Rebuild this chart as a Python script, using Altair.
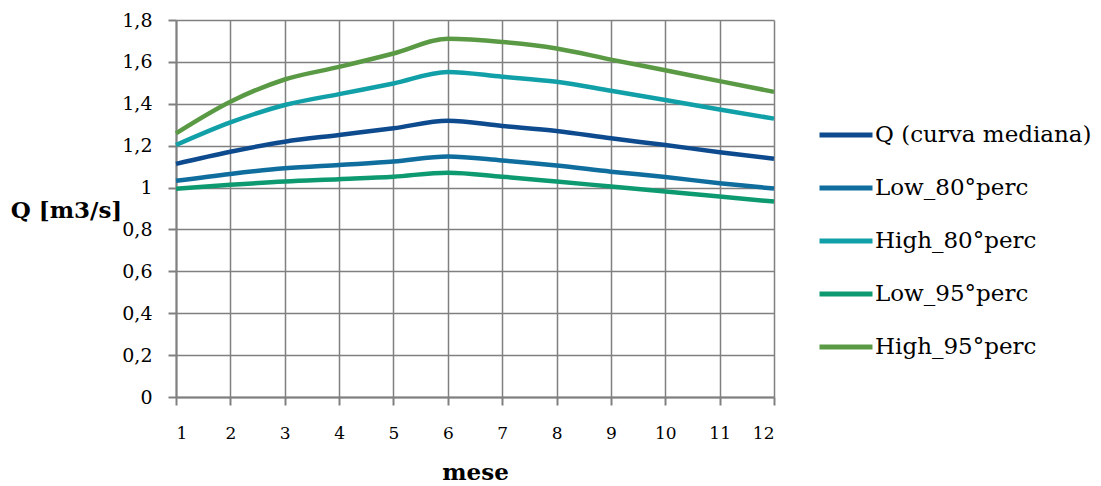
import altair as alt
import pandas as pd

months = list(range(1, 13))
series_names = ["Q (curva mediana)", "Low_80°perc", "High_80°perc", "Low_95°perc", "High_95°perc"]
q_med = [1.113, 1.171, 1.219, 1.251, 1.283, 1.319, 1.294, 1.270, 1.235, 1.203, 1.169, 1.138]
low80 = [1.032, 1.065, 1.092, 1.108, 1.124, 1.148, 1.129, 1.105, 1.076, 1.050, 1.021, 0.995]
high80 = [1.203, 1.311, 1.394, 1.446, 1.497, 1.552, 1.529, 1.505, 1.462, 1.418, 1.373, 1.329]
low95 = [0.994, 1.013, 1.029, 1.040, 1.052, 1.071, 1.052, 1.029, 1.005, 0.981, 0.957, 0.933]
high95 = [1.259, 1.410, 1.516, 1.576, 1.640, 1.710, 1.695, 1.664, 1.611, 1.560, 1.508, 1.457]
colors = ["#0E4B8E", "#0F6E9E", "#12A0A8", "#0E9A70", "#5B9A45"]
y_ticks = [0, 0.2, 0.4, 0.6, 0.8, 1.0, 1.2, 1.4, 1.6, 1.8]

rows = []
for name, vals in zip(series_names, [q_med, low80, high80, low95, high95]):
    for m, v in zip(months, vals):
        rows.append({"mese": m, "Q": v, "serie": name})
df = pd.DataFrame(rows)

FONT = "DejaVu Serif"

chart = alt.Chart(df).mark_line(strokeWidth=4.5, interpolate="monotone").encode(
    x=alt.X("mese:Q",
            scale=alt.Scale(domain=[1, 12], nice=False, zero=False),
            axis=alt.Axis(values=months, title="mese", grid=True, tickSize=8,
                          labelPadding=20, labelFontSize=17, labelFont=FONT,
                          titleFont=FONT, titleFontSize=23, titleFontWeight="bold",
                          titleY=75, titleBaseline="middle")),
    y=alt.Y("Q:Q",
            scale=alt.Scale(domain=[0, 1.8], nice=False),
            axis=alt.Axis(values=y_ticks, title="Q [m3/s]", grid=True, tickSize=8,
                          labelPadding=16, labelFontSize=19, labelFont=FONT,
                          labelExpr="replace(format(datum.value, '.1~f'), '.', ',')",
                          titleFont=FONT, titleFontSize=23, titleFontWeight="bold",
                          titleAngle=0, titleX=-110, titleY=190,
                          titleAlign="center", titleBaseline="middle")),
    color=alt.Color("serie:N",
                    scale=alt.Scale(domain=series_names, range=colors),
                    sort=series_names,
                    legend=alt.Legend(title=None, orient="none", legendX=641, legendY=86,
                                      symbolType="stroke", symbolSize=2809,
                                      symbolStrokeWidth=5, labelFont=FONT,
                                      labelFontSize=23, labelColor="black",
                                      labelOffset=0, rowPadding=12, labelLimit=300)),
).properties(
    width=598, height=377,
    autosize=alt.AutoSizeParams(type="none"),
    padding={"left": 176, "top": 20, "right": 327, "bottom": 89},
).configure_view(stroke=None).configure_axis(
    gridColor="#808080", gridWidth=1.5, gridOpacity=1,
    domainColor="#808080", domainWidth=2, tickColor="#808080", tickWidth=2,
    labelColor="black", titleColor="black",
)

chart.save("out.html", embed_options={"renderer": "svg", "actions": False})
